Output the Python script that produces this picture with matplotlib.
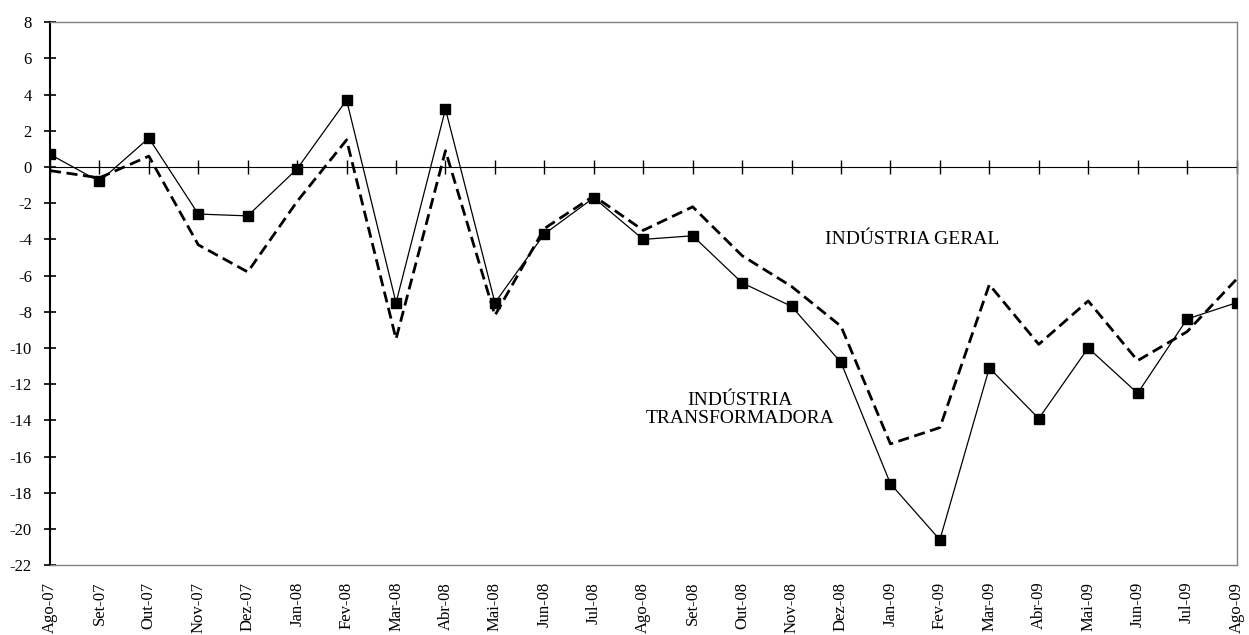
from matplotlib import pyplot as plt
import numpy as np

plt.rcParams['font.family'] = ['Liberation Serif', 'DejaVu Serif']
plt.rcParams['axes.unicode_minus'] = False

# monthly rates of change, Ago-07 .. Ago-09
months = ['Ago-07', 'Set-07', 'Out-07', 'Nov-07', 'Dez-07', 'Jan-08', 'Fev-08',
          'Mar-08', 'Abr-08', 'Mai-08', 'Jun-08', 'Jul-08', 'Ago-08', 'Set-08',
          'Out-08', 'Nov-08', 'Dez-08', 'Jan-09', 'Fev-09', 'Mar-09', 'Abr-09',
          'Mai-09', 'Jun-09', 'Jul-09', 'Ago-09']

transformadora = [0.7, -0.8, 1.6, -2.6, -2.7, -0.1, 3.7, -7.5, 3.2, -7.5, -3.7,
                  -1.7, -4.0, -3.8, -6.4, -7.7, -10.8, -17.5, -20.6, -11.1,
                  -13.9, -10.0, -12.5, -8.4, -7.5]

geral = [-0.2, -0.6, 0.6, -4.3, -5.8, -1.9, 1.5, -9.5, 0.9, -8.2, -3.4, -1.6,
         -3.5, -2.2, -4.9, -6.6, -8.8, -15.3, -14.4, -6.5, -9.8, -7.4, -10.7,
         -9.1, -6.2]

ymin, ymax = -22, 8
x = np.arange(len(months))

fig = plt.figure(figsize=(12.49, 6.35), dpi=100)
fig.subplots_adjust(left=0.040, right=0.990, top=0.965, bottom=0.110)
ax = fig.add_subplot(111)

ax.plot(x, geral, color='black', lw=2.0, ls=(0, (4, 2)), zorder=3)
ax.plot(x, transformadora, color='black', lw=0.9, marker='s', markersize=6.5,
        zorder=4)

ax.set_xlim(0, len(months) - 1)
ax.set_ylim(ymin, ymax)
ax.set_yticks(np.arange(ymin, ymax + 1, 2))
ax.set_xticks(x)
ax.set_xticklabels(months, rotation=90, fontsize=12)
ax.tick_params(axis='x', length=0, pad=12)
ax.tick_params(axis='y', direction='inout', length=8, width=1.2, labelsize=12,
               pad=9)

for side in ['top', 'right', 'bottom']:
    ax.spines[side].set_color('#808080')
    ax.spines[side].set_linewidth(1.0)
ax.spines['left'].set_linewidth(1.5)

# zero axis with category tick marks
zero = ax.secondary_xaxis((0 - ymin) / (ymax - ymin))
zero.set_xticks(x)
zero.set_xticklabels([])
zero.tick_params(direction='inout', length=10, width=1.0)
zero.spines['bottom'].set_linewidth(1.3)
zero.spines['bottom'].set_color('black')

ax.text(17.44, -4.0, 'INDÚSTRIA GERAL', fontsize=14, ha='center', va='center')
ax.text(13.95, -13.4, 'INDÚSTRIA\nTRANSFORMADORA', fontsize=14, ha='center',
        va='center', multialignment='center', linespacing=1.1)

plt.savefig('out.png', dpi=100)
